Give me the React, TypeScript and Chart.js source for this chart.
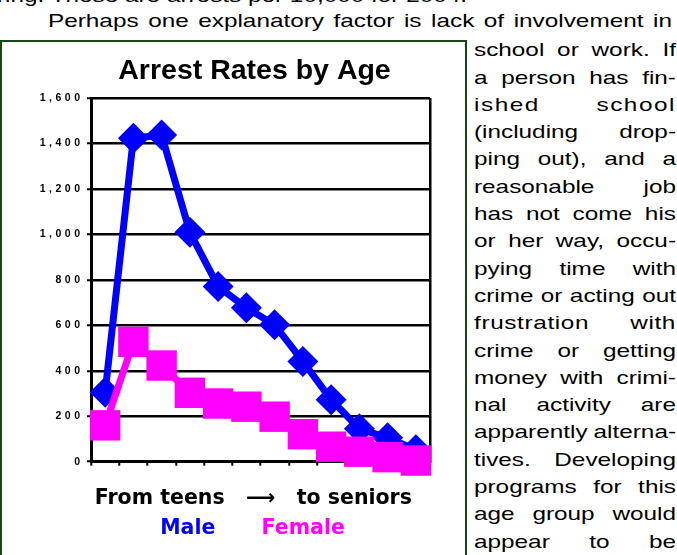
import React, { useEffect, useRef } from "react";
import { Chart, registerables } from "chart.js";

Chart.register(...registerables);

// ---- data ----
const ageGroups = ["1", "2", "3", "4", "5", "6", "7", "8", "9", "10", "11", "12"];
const maleRates = [305, 1423, 1437, 1009, 771, 677, 602, 441, 273, 145, 105, 53];
const femaleRates = [160, 527, 423, 303, 256, 242, 198, 121, 66, 44, 20, 5];
const seriesNames = ["Male", "Female"];
const yMin = 0;
const yMax = 1600;
const yStep = 200;
const chartTitle = "Arrest Rates by Age";
const xTitle = "From teens   \u27F6   to seniors  ";

// ---- surrounding page text ----
const pageTopLine = "ring. These are arrests per 10,000 for 2004.";
const pageLeadLine = "Perhaps one explanatory factor is lack of involvement in";
const sideLines: { t: string; ls?: number }[] = [
  { t: "school or work. If" },
  { t: "a person has fin-" },
  { t: "ished school", ls: 1.2 },
  { t: "(including drop-" },
  { t: "ping out), and a" },
  { t: "reasonable job" },
  { t: "has not come his" },
  { t: "or her way, occu-" },
  { t: "pying time with" },
  { t: "crime or acting out" },
  { t: "frustration with", ls: 0.5 },
  { t: "crime or getting" },
  { t: "money with crimi-" },
  { t: "nal activity are" },
  { t: "apparently alterna-" },
  { t: "tives. Developing" },
  { t: "programs for this" },
  { t: "age group would" },
  { t: "appear to be" },
];

const FS = 19;
const SX = 1.28;
const ASC = FS * 0.905 - (0.117 * FS) / 2 + (FS - FS) / 2; // baseline offset with line-height = font-size

function JustLine(props: { text: string; left: number; width: number; baseline: number; ls?: number }) {
  const words = props.text.split(" ");
  return (
    <div
      style={{
        position: "absolute",
        left: props.left,
        top: props.baseline - ASC,
        width: props.width / SX,
        display: "flex",
        justifyContent: "space-between",
        transform: `scaleX(${SX})`,
        transformOrigin: "0 0",
        whiteSpace: "pre",
        letterSpacing: props.ls ? `${props.ls}px` : undefined,
      }}
    >
      {words.map((w, i) => (
        <span key={i}>{w}</span>
      ))}
    </div>
  );
}

export default function App() {
  const ref = useRef<HTMLCanvasElement>(null);

  useEffect(() => {
    if (!ref.current) return;
    const blue = "#0000ff";
    const magenta = "#ff00ff";
    const legendPads = ["    ", "  "];
    const chart = new Chart(ref.current, {
      type: "line",
      data: {
        labels: ageGroups,
        datasets: [
          {
            label: seriesNames[0],
            data: maleRates,
            borderColor: blue,
            backgroundColor: blue,
            borderWidth: 7,
            pointStyle: "rectRot",
            pointRadius: 15.5,
            pointBackgroundColor: blue,
            pointBorderColor: blue,
            pointBorderWidth: 0,
            tension: 0,
            order: 1,
            clip: false as any,
          },
          {
            label: seriesNames[1],
            data: femaleRates,
            borderColor: magenta,
            backgroundColor: magenta,
            borderWidth: 7,
            pointStyle: "rect",
            pointRadius: 21.5,
            pointBackgroundColor: magenta,
            pointBorderColor: magenta,
            pointBorderWidth: 0,
            tension: 0,
            order: 0,
            clip: false as any,
          },
        ],
      },
      options: {
        responsive: false,
        animation: false,
        events: [],
        layout: { padding: { left: 0, right: 0, top: 0, bottom: 5.7 } },
        plugins: {
          tooltip: { enabled: false },
          title: {
            display: true,
            text: chartTitle,
            color: "#000",
            font: { family: "'Liberation Sans', Arial, sans-serif", size: 28.5, weight: "bold" },
            padding: { top: 11.3, bottom: 9.5 },
          },
          legend: {
            position: "bottom",
            labels: {
              boxWidth: 0,
              boxHeight: 0,
              padding: 7.5,
              font: { family: "'DejaVu Sans', Verdana, sans-serif", size: 20.5, weight: "bold" },
              generateLabels: (c: any) =>
                c.data.datasets.map((ds: any, i: number) => ({
                  text: seriesNames[i] + legendPads[i],
                  fontColor: ds.borderColor,
                  fillStyle: "rgba(0,0,0,0)",
                  strokeStyle: "rgba(0,0,0,0)",
                  lineWidth: 0,
                  hidden: false,
                  datasetIndex: i,
                })),
            },
          },
        },
        scales: {
          x: {
            type: "category",
            offset: true,
            grid: {
              offset: true,
              color: (c: any) => (c.tick ? "rgba(0,0,0,0)" : "#000"),
              lineWidth: 2.5,
              drawTicks: true,
              tickLength: 4,
              tickColor: "#000",
              tickWidth: 2,
            },
            border: { display: true, color: "#000", width: 3 },
            ticks: { display: false },
            title: {
              display: true,
              text: xTitle,
              color: "#000",
              font: { family: "'DejaVu Sans', Verdana, sans-serif", size: 20.5, weight: "bold" },
              padding: { top: 21, bottom: 0 },
            },
          },
          y: {
            min: yMin,
            max: yMax,
            ticks: {
              stepSize: yStep,
              padding: 7,
              color: "#000",
              font: { family: "'Liberation Sans', Arial, sans-serif", size: 10.5, weight: "bold" },
              callback: (v: any) => Number(v).toLocaleString("en-US").split("").join("\u2004"),
            },
            grid: { color: "#000", lineWidth: 2.5, tickLength: 4, tickColor: "#000", tickWidth: 2 },
            border: { display: true, color: "#000", width: 3 },
            afterFit: (s: any) => {
              s.width = 51;
            },
          },
          y2: {
            type: "linear",
            position: "right",
            display: true,
            grid: { display: false, drawTicks: false },
            border: { display: false },
            ticks: { display: false },
            afterFit: (s: any) => {
              s.width = 39;
            },
          },
        },
      } as any,
    });
    return () => chart.destroy();
  }, []);

  return (
    <div
      style={{
        position: "fixed",
        left: 0,
        top: 0,
        width: 677,
        height: 555,
        overflow: "hidden",
        background: "#fff",
        color: "#000",
        fontFamily: "'Liberation Sans', Arial, sans-serif",
        fontSize: FS,
        lineHeight: `${FS}px`,
      }}
    >
      <div
        style={{
          position: "absolute",
          left: -3,
          top: 2.5 - ASC,
          whiteSpace: "pre",
          transform: `scaleX(${SX})`,
          transformOrigin: "0 0",
        }}
      >
        {pageTopLine}
      </div>
      <JustLine text={pageLeadLine} left={48} width={624} baseline={27.3} />
      {sideLines.map((l, i) => (
        <JustLine key={i} text={l.t} ls={l.ls} left={474} width={202} baseline={56.3 + i * 27.3} />
      ))}
      <div
        style={{
          position: "absolute",
          left: 0,
          top: 40,
          width: 467,
          height: 560,
          border: "2px solid #174717",
          boxSizing: "border-box",
        }}
      />
      <canvas ref={ref} width={429} height={512} style={{ position: "absolute", left: 40, top: 43 }} />
    </div>
  );
}
